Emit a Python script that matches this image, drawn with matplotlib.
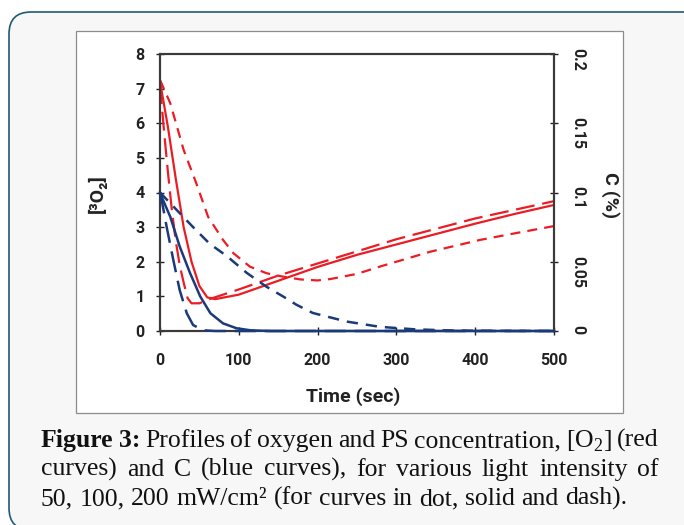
import matplotlib
matplotlib.use("Agg")
import matplotlib.pyplot as plt
from matplotlib.patches import FancyBboxPatch, Rectangle
from matplotlib.transforms import IdentityTransform

# [3O2] (red) for 50, 100, 200 mW/cm2 -> dot, solid, dash
t_o2_dot = [0, 13, 30, 46, 61, 80, 93, 114, 135, 156, 178, 200, 216, 250, 279, 343, 406, 450, 500]
o2_dot = [7.25, 6.58, 5.23, 4.27, 3.3, 2.63, 2.25, 1.86, 1.67, 1.57, 1.49, 1.46, 1.5, 1.65, 1.86, 2.29, 2.63, 2.82, 3.03]

t_o2_solid = [0, 10, 20, 30, 40, 50, 60, 70, 100, 150, 200, 250, 300, 350, 400, 450, 500]
o2_solid = [7.2, 5.9, 4.4, 3.0, 2.0, 1.3, 0.97, 0.92, 1.05, 1.45, 1.85, 2.2, 2.5, 2.8, 3.1, 3.38, 3.64]

t_o2_dash = [0, 5, 10, 15, 20, 25, 30, 35, 40, 50, 60, 80, 100, 150, 200, 250, 300, 350, 400, 450, 500]
o2_dash = [7.1, 5.8, 4.6, 3.5, 2.6, 1.9, 1.4, 0.95, 0.8, 0.8, 0.9, 1.05, 1.2, 1.6, 1.95, 2.3, 2.65, 2.95, 3.25, 3.5, 3.75]

# C (blue), in %
t_c_dot = [0, 21, 42, 63, 85, 110, 135, 156, 173, 194, 237, 279, 321, 360, 400, 500]
c_dot = [0.1, 0.0875, 0.075, 0.063, 0.054, 0.042, 0.032, 0.025, 0.019, 0.013, 0.0068, 0.003, 0.0013, 0.0005, 0.0002, 0.0]

t_c_solid = [0, 2, 13, 25, 38, 51, 64, 80, 97, 115, 140, 500]
c_solid = [0.1, 0.097, 0.0825, 0.061, 0.042, 0.025, 0.0128, 0.0055, 0.002, 0.0005, 0.0, 0.0]

t_c_dash = [0, 2, 8.5, 17, 25, 34, 42, 55, 70, 500]
c_dash = [0.1, 0.095, 0.075, 0.051, 0.0295, 0.0128, 0.0043, 0.0005, 0.0, 0.0]

x_ticks = [0, 100, 200, 300, 400, 500]
o2_ticks = [0, 1, 2, 3, 4, 5, 6, 7, 8]
c_ticks = [0, 0.05, 0.1, 0.15, 0.2]
c_tick_labels = ["0", "0.05", "0.1", "0.15", "0.2"]

caption_lines = [
    r"Figure 3: Profiles of oxygen and PS concentration, [O$_\mathrm{2}$] (red",
    "curves) and C (blue curves), for various light intensity of",
    "50, 100, 200 mW/cm\u00b2 (for curves in dot, solid and dash).",
]

RED = "#ec1c24"
BLUE = "#1b3a7a"
SANS = ["Roboto", "DejaVu Sans"]
SERIF = ["Liberation Serif", "DejaVu Serif"]
W, H = 684, 525

plt.rcParams["mathtext.fontset"] = "custom"
plt.rcParams["mathtext.rm"] = "Liberation Serif"

fig = plt.figure(figsize=(6.84, 5.25), dpi=100)
fig.patch.set_facecolor("white")

# outer rounded card and white chart panel (pixel coords)
card = FancyBboxPatch((9, H - 530), 700, 530 - 12, boxstyle="round,pad=0,rounding_size=22",
                      transform=IdentityTransform(), fc="#f7f7f7", ec="#1e5b74", lw=1.2, zorder=-5)
fig.patches.append(card)
panel = Rectangle((76, H - 413), 623 - 76, 413 - 31, transform=IdentityTransform(),
                  fc="white", ec="#8c8c8c", lw=0.9, zorder=-4)
fig.patches.append(panel)

ax = fig.add_axes([160 / W, 1 - 331 / H, (554 - 160) / W, (331 - 54) / H])
ax.set_facecolor("none")
ax2 = ax.twinx()

short = (4.5, 3.2)
long_ = (8.5, 3.5)
lw = 1.6

ax.plot(t_o2_dot, o2_dot, color=RED, lw=lw, dashes=short)
ax.plot(t_o2_solid, o2_solid, color=RED, lw=lw)
ax.plot(t_o2_dash, o2_dash, color=RED, lw=lw, dashes=long_)

ax2.plot(t_c_dot, c_dot, color=BLUE, lw=1.8, dashes=short, clip_on=False, zorder=3)
ax2.plot(t_c_solid, c_solid, color=BLUE, lw=1.8, clip_on=False, zorder=3)
ax2.plot(t_c_dash, c_dash, color=BLUE, lw=1.8, dashes=long_, clip_on=False, zorder=3)

ax.set_xlim(0, 500)
ax.set_ylim(0, 8)
ax2.set_ylim(0, 0.2)

ax.set_xticks(x_ticks)
ax.set_yticks(o2_ticks)
ax2.set_yticks(c_ticks)
ax2.set_yticklabels(c_tick_labels)

for a in (ax, ax2):
    for s in a.spines.values():
        s.set_color("#3a3a3a")
        s.set_linewidth(1.5)

ax.tick_params(axis="x", direction="inout", length=6, width=1, pad=13, labelsize=11.5, colors="#222222")
ax.tick_params(axis="y", direction="inout", length=6, width=1, pad=8, labelsize=11.5, colors="#222222")
ax2.tick_params(axis="y", direction="inout", length=6, width=1, pad=9, labelsize=11.5,
                colors="#222222", labelrotation=-90)
for lab in ax.get_xticklabels() + ax.get_yticklabels() + ax2.get_yticklabels():
    lab.set_family(SANS)
    lab.set_fontweight("bold")

ax.set_xlabel("Time (sec)", family=SANS, fontweight="bold", fontsize=14, color="#222222", va="center")
ax.xaxis.set_label_coords(0.49, -0.238)
ax.set_ylabel("[\u00b3O\u2082]", family=SANS, fontweight="bold",
              fontsize=14, color="#222222", va="center")
ax.yaxis.set_label_coords(-0.16, 0.495)
ax2.set_ylabel("C (%)", family=SANS, fontweight="bold", fontsize=14, color="#222222",
               rotation=-90, va="center")
ax2.yaxis.set_label_coords(1.142, 0.49)

# caption, justified like the journal layout
cap_size = 18.5
cap_col = "#111111"
left, right = 41, 659
baselines = [447, 476, 505]
r = fig.canvas.get_renderer()
for i, (line, base) in enumerate(zip(caption_lines, baselines)):
    words = line.split(" ")
    items = []
    for j, w in enumerate(words):
        weight = "bold" if (i == 0 and j < 2) else "normal"
        t = fig.text(0, 1 - base / H, w, family=SERIF, fontsize=cap_size, fontweight=weight,
                     color=cap_col, va="baseline")
        items.append((t, t.get_window_extent(r).width))
    total = sum(wd for _, wd in items)
    if i < len(caption_lines) - 1:
        gap = (right - left - total) / (len(items) - 1)
    else:
        gap = 6.5
    x = left
    for t, wd in items:
        t.set_x(x / W)
        x += wd + gap

fig.savefig("out.png", dpi=100)
